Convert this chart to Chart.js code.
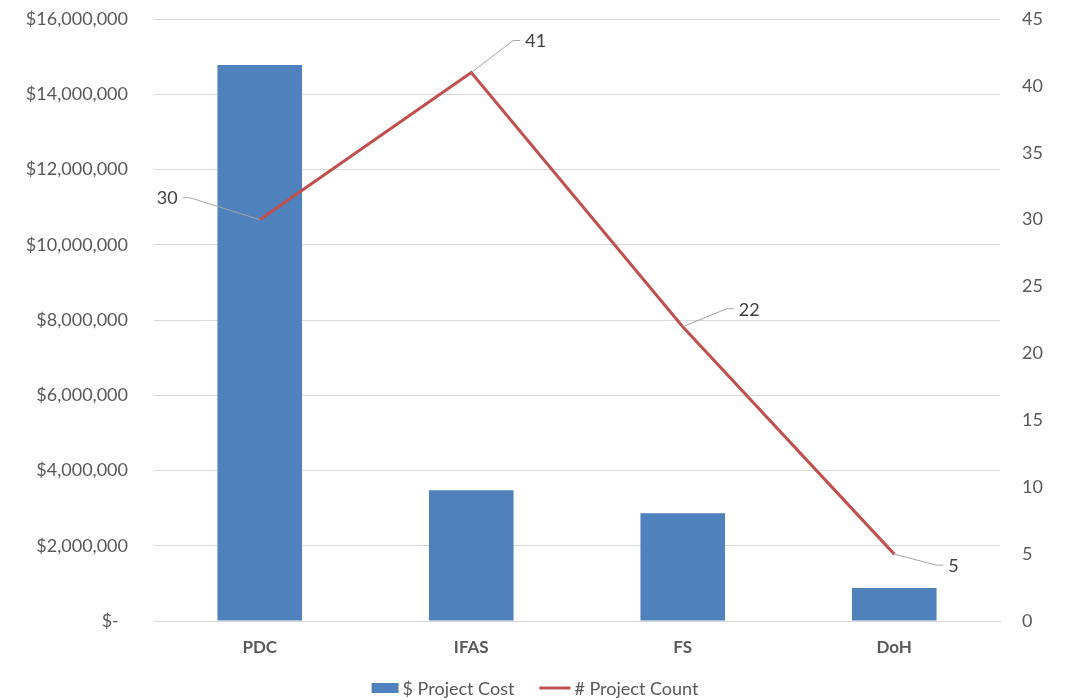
<!DOCTYPE html>
<html>
<head>
<meta charset="utf-8">
<script src="https://cdn.jsdelivr.net/npm/chart.js@4"></script>
<style>
  html, body { margin: 0; padding: 0; background: #ffffff; }
  #wrap { width: 1066px; height: 700px; position: relative; }
</style>
</head>
<body>
<div id="wrap"><canvas id="c"></canvas></div>
<script>
// Program categories
const categories = ['PDC', 'IFAS', 'FS', 'DoH'];
// Total project cost per program (USD)
const projectCost = [14780000, 3476000, 2866000, 876000];
// Number of projects per program
const projectCount = [30, 41, 22, 5];
// Axis ranges
const costAxis = { min: 0, max: 16000000, step: 2000000 };
const countAxis = { min: 0, max: 45, step: 5 };

// Elbow position of each count label's leader line, relative to the point
const labelLeaders = [
  { dx: -70, dy: -22, side: 'left' },
  { dx: 42, dy: -32, side: 'right' },
  { dx: 44, dy: -18, side: 'right' },
  { dx: 42, dy: 11, side: 'right' }
];

const FONT = 'Lato, "Open Sans", sans-serif';
const TEXT = '#595959';

const fmtMoney = v => v === 0 ? '$-  ' : '$' + v.toLocaleString('en-US');

// Vertical axes: fixed width, and no extra room reserved above/below
const fixVertical = width => scale => {
  scale.width = width;
  scale.paddingTop = 0;
  scale.paddingBottom = 0;
};

// Count labels with grey leader lines
const leaderLabels = {
  id: 'leaderLabels',
  afterDatasetsDraw(chart) {
    const meta = chart.getDatasetMeta(1);
    const ctx = chart.ctx;
    ctx.save();
    meta.data.forEach((pt, i) => {
      const L = labelLeaders[i];
      const ex = pt.x + L.dx, ey = pt.y + L.dy;
      const hx = L.side === 'left' ? ex - 7 : ex + 7;
      ctx.strokeStyle = '#a6a6a6';
      ctx.lineWidth = 1;
      ctx.beginPath();
      ctx.moveTo(pt.x, pt.y);
      ctx.lineTo(ex, ey);
      ctx.lineTo(hx, ey);
      ctx.stroke();
      ctx.fillStyle = '#404040';
      ctx.font = '18px ' + FONT;
      ctx.textBaseline = 'middle';
      ctx.textAlign = L.side === 'left' ? 'right' : 'left';
      ctx.fillText(String(projectCount[i]), L.side === 'left' ? hx - 5 : hx + 5, ey + 1);
    });
    ctx.restore();
  }
};

// Compact legend along the bottom edge
const bottomLegend = {
  id: 'bottomLegend',
  afterDraw(chart) {
    const ctx = chart.ctx;
    const sets = chart.data.datasets;
    const keyW = 27, keyGap = 4, itemGap = 25;
    ctx.save();
    ctx.font = '18px ' + FONT;
    const widths = sets.map(ds => keyW + keyGap + ctx.measureText(ds.label).width);
    const total = widths.reduce((a, b) => a + b, 0) + itemGap * (sets.length - 1);
    let x = chart.width / 2 - total / 2;
    const y = chart.height - 12;
    sets.forEach((ds, i) => {
      if (ds.type === 'line') {
        ctx.strokeStyle = ds.borderColor;
        ctx.lineWidth = ds.borderWidth;
        ctx.beginPath();
        ctx.moveTo(x, y);
        ctx.lineTo(x + keyW + 4, y);
        ctx.stroke();
      } else {
        ctx.fillStyle = ds.backgroundColor;
        ctx.fillRect(x, y - 5, keyW, 10);
      }
      const off = ds.type === 'line' ? 4 : 0;
      ctx.fillStyle = TEXT;
      ctx.textBaseline = 'middle';
      ctx.textAlign = 'left';
      ctx.fillText(ds.label, x + keyW + keyGap + off, y + 1);
      x += widths[i] + itemGap + off;
    });
    ctx.restore();
  }
};

new Chart(document.getElementById('c'), {
  type: 'bar',
  data: {
    labels: categories,
    datasets: [
      {
        type: 'bar',
        label: '$ Project Cost',
        data: projectCost,
        backgroundColor: '#4f81bd',
        borderWidth: 0,
        yAxisID: 'y',
        order: 2,
        barPercentage: 0.4,
        categoryPercentage: 1.0
      },
      {
        type: 'line',
        label: '# Project Count',
        data: projectCount,
        borderColor: '#c0504d',
        backgroundColor: '#c0504d',
        borderWidth: 3,
        pointRadius: 0,
        pointHoverRadius: 0,
        tension: 0,
        yAxisID: 'y1',
        order: 1
      }
    ]
  },
  options: {
    responsive: true,
    maintainAspectRatio: false,
    animation: false,
    layout: { padding: { top: 19, bottom: 26, left: 0, right: 0 } },
    plugins: {
      tooltip: { enabled: false },
      legend: { display: false }
    },
    scales: {
      x: {
        afterFit(scale) { scale.height = 53; },
        grid: { display: false, drawTicks: false },
        border: { display: true, color: '#d9d9d9' },
        ticks: { color: TEXT, padding: 16, font: { family: FONT, size: 17, weight: 'bold' } }
      },
      y: {
        position: 'left',
        min: costAxis.min,
        max: costAxis.max,
        afterFit: fixVertical(154),
        grid: { color: '#d9d9d9', drawTicks: false },
        border: { display: false },
        ticks: {
          stepSize: costAxis.step,
          color: TEXT,
          padding: 26,
          font: { family: FONT, size: 18 },
          callback: v => fmtMoney(v)
        }
      },
      y1: {
        position: 'right',
        min: countAxis.min,
        max: countAxis.max,
        afterFit: fixVertical(66),
        grid: { drawOnChartArea: false, drawTicks: false },
        border: { display: false },
        ticks: {
          stepSize: countAxis.step,
          color: TEXT,
          padding: 22,
          font: { family: FONT, size: 18 }
        }
      }
    }
  },
  plugins: [leaderLabels, bottomLegend]
});
</script>
</body>
</html>
